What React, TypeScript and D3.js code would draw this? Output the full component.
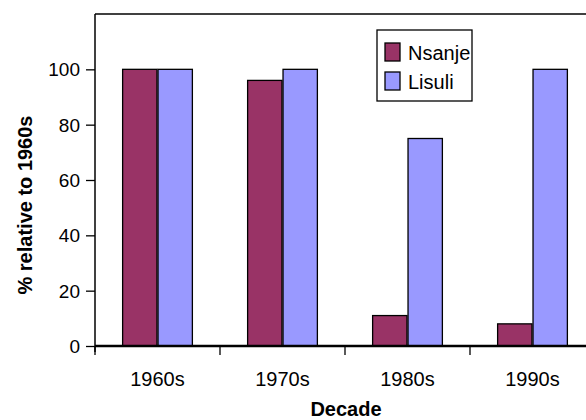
import React, { useEffect, useRef } from "react";
import * as d3 from "d3";

const decades = ["1960s", "1970s", "1980s", "1990s"];
const seriesNames = ["Nsanje", "Lisuli"];
const nsanje = [100, 96, 11, 8];
const lisuli = [100, 100, 75, 100];
const seriesColors = ["#993366", "#9999FF"];
const yTicks = [0, 20, 40, 60, 80, 100];

const width = 586;
const height = 420;
const margins = { top: 14, right: -9, bottom: 74, left: 95 };

const App: React.FC = () => {
    const svgRef = useRef<SVGSVGElement | null>(null);

    useEffect(() => {
        if (!svgRef.current) return;
        const svg = d3.select(svgRef.current);
        svg.selectAll("*").remove();

        const font = "Arial, 'Liberation Sans', sans-serif";
        const x0 = d3
            .scaleBand<string>()
            .domain(decades)
            .range([margins.left, width - margins.right]);
        const x1 = d3
            .scaleBand<string>()
            .domain(seriesNames)
            .range([0, x0.bandwidth()])
            .paddingOuter(0.78)
            .paddingInner(0.03);
        const y = d3
            .scaleLinear()
            .domain([0, 120])
            .range([height - margins.bottom, margins.top]);

        // plot frame (top + left)
        svg.append("line")
            .attr("x1", margins.left)
            .attr("x2", width)
            .attr("y1", y(120))
            .attr("y2", y(120))
            .attr("stroke", "#000")
            .attr("stroke-width", 1.5);

        // bars
        const values = [nsanje, lisuli];
        seriesNames.forEach((name, s) => {
            svg.append("g")
                .selectAll("rect")
                .data(decades)
                .join("rect")
                .attr("x", (d) => (x0(d) as number) + (x1(name) as number))
                .attr("y", (d, i) => y(values[s][i]))
                .attr("width", x1.bandwidth())
                .attr("height", (d, i) => y(0) - y(values[s][i]))
                .attr("fill", seriesColors[s])
                .attr("stroke", "#000")
                .attr("stroke-width", 1.3);
        });

        // y axis
        svg.append("g")
            .attr("transform", `translate(${margins.left},0)`)
            .call(d3.axisLeft(y).tickValues(yTicks).tickSize(9).tickPadding(6))
            .call((g) => g.select(".domain").attr("d", `M0,${y(120)}V${y(0) + 6}`).attr("stroke-width", 1.5))
            .call((g) => g.selectAll(".tick line").attr("stroke-width", 1.3))
            .call((g) =>
                g.selectAll(".tick text")
                    .attr("font-size", 19)
                    .attr("font-family", font)
                    .attr("fill", "#000")
                    .attr("dy", "0.35em")
            );

        // x axis
        svg.append("g")
            .attr("transform", `translate(0,${y(0)})`)
            .call((g) =>
                g.append("line")
                    .attr("x1", margins.left)
                    .attr("x2", width)
                    .attr("stroke", "#000")
                    .attr("stroke-width", 2.5)
            )
            .call((g) =>
                g.selectAll(".xtick")
                    .data(decades)
                    .join("line")
                    .attr("class", "xtick")
                    .attr("x1", (d) => x0(d) as number)
                    .attr("x2", (d) => x0(d) as number)
                    .attr("y1", 0)
                    .attr("y2", 9)
                    .attr("stroke", "#000")
                    .attr("stroke-width", 1.3)
            )
            .call((g) =>
                g.selectAll(".xlabel")
                    .data(decades)
                    .join("text")
                    .attr("class", "xlabel")
                    .attr("x", (d) => (x0(d) as number) + x0.bandwidth() / 2)
                    .attr("y", 40)
                    .attr("text-anchor", "middle")
                    .attr("font-size", 20)
                    .attr("font-family", font)
                    .text((d) => d)
            );

        // axis titles
        svg.append("text")
            .attr("x", 346)
            .attr("y", 416)
            .attr("text-anchor", "middle")
            .attr("font-size", 20)
            .attr("font-weight", "bold")
            .attr("font-family", font)
            .text("Decade");

        svg.append("text")
            .attr("transform", `translate(32,${(y(0) + y(120)) / 2 + 25}) rotate(-90)`)
            .attr("text-anchor", "middle")
            .attr("font-size", 20)
            .attr("font-weight", "bold")
            .attr("font-family", font)
            .text("% relative to 1960s");

        // legend
        const legend = svg.append("g").attr("transform", "translate(377,30)");
        legend.append("rect")
            .attr("width", 95)
            .attr("height", 71)
            .attr("fill", "#fff")
            .attr("stroke", "#000")
            .attr("stroke-width", 1.3);
        seriesNames.forEach((name, i) => {
            legend.append("rect")
                .attr("x", 8)
                .attr("y", 13 + i * 29)
                .attr("width", 15)
                .attr("height", 18)
                .attr("fill", seriesColors[i])
                .attr("stroke", "#000")
                .attr("stroke-width", 1.3);
            legend.append("text")
                .attr("x", 31)
                .attr("y", 30 + i * 29)
                .attr("font-size", 20)
                .attr("font-family", font)
                .text(name);
        });
    }, []);

    return (
        <svg
            ref={svgRef}
            width={width}
            height={height}
            style={{ position: "absolute", left: 0, top: 0, background: "#fff", overflow: "hidden" }}
        ></svg>
    );
};

export default App;
